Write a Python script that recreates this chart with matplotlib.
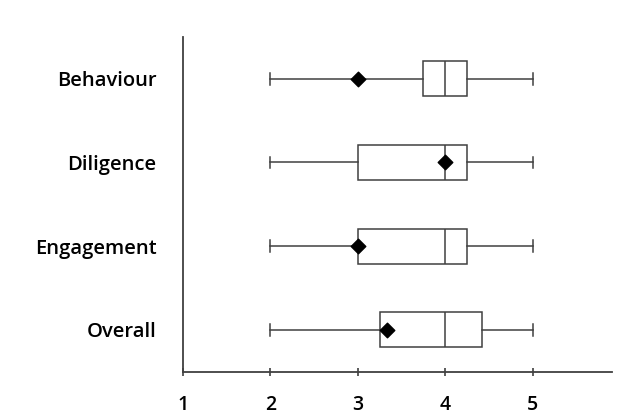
import matplotlib
matplotlib.use("Agg")
import matplotlib.pyplot as plt

# rows drawn from bottom to top
categories = ["Overall", "Engagement", "Diligence", "Behaviour"]
whisker_lo = [2, 2, 2, 2]
q1 = [3.25, 3.0, 3.0, 3.75]
median = [4, 4, 4, 4]
q3 = [4.42, 4.25, 4.25, 4.25]
whisker_hi = [5, 5, 5, 5]
means = [3.33, 3.0, 4.0, 3.0]
xticks = [1, 2, 3, 4, 5]

FONT = ["Open Sans", "DejaVu Sans"]

fig = plt.figure(figsize=(6.35, 4.2), dpi=100)
ax = fig.add_axes([0.288, 0.115, 0.675, 0.797])

stats = []
for i, cat in enumerate(categories):
    stats.append({
        "label": cat, "whislo": whisker_lo[i], "q1": q1[i], "med": median[i],
        "q3": q3[i], "whishi": whisker_hi[i], "fliers": [],
    })

lw = 1.1
col = "#404040"
ax.bxp(stats, positions=range(1, len(categories) + 1), vert=False, widths=0.42,
       showfliers=False, patch_artist=True,
       boxprops=dict(facecolor="white", edgecolor=col, linewidth=lw),
       medianprops=dict(color=col, linewidth=lw),
       whiskerprops=dict(color=col, linewidth=lw),
       capprops=dict(color=col, linewidth=lw), capwidths=0.14)

ax.scatter(means, range(1, len(categories) + 1), marker="D", s=55, color="black",
           zorder=5)

ax.set_xlim(1, 5.9)
ax.set_ylim(0.5, len(categories) + 0.5)
ax.set_xticks(xticks)
ax.set_xticklabels([str(t) for t in xticks], fontsize=14, fontweight="semibold",
                   family=FONT)
ax.set_yticks(range(1, len(categories) + 1))
ax.set_yticklabels(categories, fontsize=14.5, fontweight="semibold", family=FONT)
ax.tick_params(axis="y", length=0, pad=19)
ax.tick_params(axis="x", length=6, width=1.2, color=col, pad=14, direction="inout")
for s in ("top", "right"):
    ax.spines[s].set_visible(False)
for s in ("left", "bottom"):
    ax.spines[s].set_color(col)
    ax.spines[s].set_linewidth(1.3)

fig.savefig("out.png", dpi=100)
